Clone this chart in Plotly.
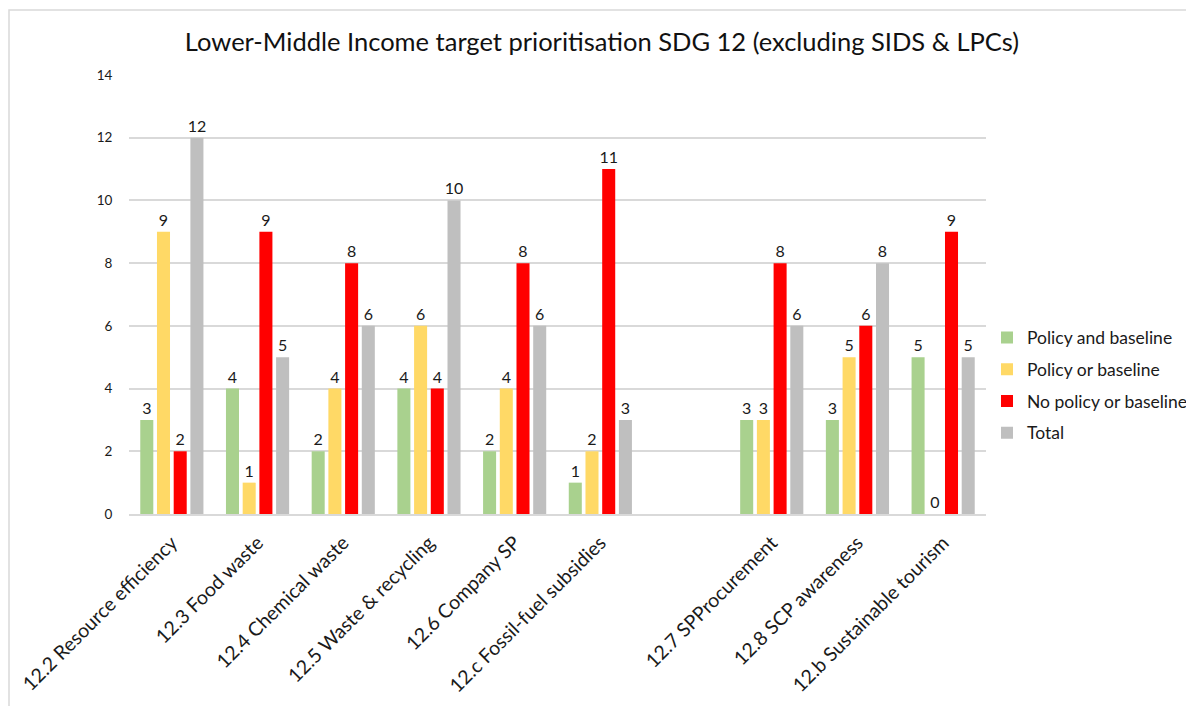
import plotly.graph_objects as go

# Targets (a blank slot separates 12.c from 12.7)
categories = [
    "12.2 Resource efficiency",
    "12.3 Food waste",
    "12.4 Chemical waste",
    "12.5 Waste & recycling",
    "12.6 Company SP",
    "12.c Fossil-fuel subsidies",
    " ",
    "12.7 SPProcurement",
    "12.8 SCP awareness",
    "12.b Sustainable tourism",
]

policy_and_baseline = [3, 4, 2, 4, 2, 1, None, 3, 3, 5]
policy_or_baseline = [9, 1, 4, 6, 4, 2, None, 3, 5, 0]
no_policy_or_baseline = [2, 9, 8, 4, 8, 11, None, 8, 6, 9]
total = [12, 5, 6, 10, 6, 3, None, 6, 8, 5]

series = [
    ("Policy and baseline", policy_and_baseline, "#A9D18E"),
    ("Policy or baseline", policy_or_baseline, "#FFD966"),
    ("No policy or baseline", no_policy_or_baseline, "#FF0000"),
    ("Total", total, "#BFBFBF"),
]

FONT = "Lato, 'Open Sans', sans-serif"

fig = go.Figure()
for name, values, color in series:
    fig.add_trace(go.Bar(
        name=name,
        legendgroup=name,
        x=categories,
        y=values,
        marker=dict(color=color, line=dict(width=0)),
        text=[("" if v is None else str(v)) for v in values],
        textposition="outside",
        constraintext="none",
        cliponaxis=False,
        textfont=dict(family=FONT, size=16, color="#1a1a1a"),
    ))

L, R, T, B = 129, 200, 75, 192
W, H = 1186, 706
pw, ph = W - L - R, H - T - B

fig.update_layout(
    width=W,
    height=H,
    margin=dict(l=L, r=R, t=T, b=B, pad=0, autoexpand=False),
    paper_bgcolor="white",
    plot_bgcolor="white",
    barmode="group",
    bargap=0.22,
    bargroupgap=0.22,
    font=dict(family=FONT, color="#1a1a1a"),
    title=dict(
        text="Lower-Middle Income target prioritisation SDG 12 (excluding SIDS & LPCs)",
        font=dict(family=FONT, size=25.5, color="#111111"),
        x=602 / W,
        xanchor="center",
        y=1 - 42 / H,
        yanchor="middle",
    ),
    legend=dict(
        xref="container",
        yref="container",
        x=987 / W,
        xanchor="left",
        y=1 - 385 / H,
        yanchor="middle",
        font=dict(family=FONT, size=17.5, color="#1a1a1a"),
        bgcolor="rgba(0,0,0,0)",
        traceorder="grouped",
        tracegroupgap=6,
        itemwidth=30,
    ),
    showlegend=True,
    shapes=[
        dict(
            type="rect",
            xref="paper", yref="paper",
            x0=(9 - L) / pw, x1=(W + 20 - L) / pw,
            y0=-(H + 20 - (T + ph)) / ph, y1=1 + (T - 10) / ph,
            line=dict(color="#D9D9D9", width=1.5),
            fillcolor="rgba(0,0,0,0)",
            layer="below",
        )
    ],
)

fig.update_yaxes(
    range=[0, 14],
    dtick=2,
    showgrid=True,
    gridcolor="#D9D9D9",
    gridwidth=1.5,
    zeroline=False,
    showline=False,
    ticks="outside",
    ticklen=13,
    tickcolor="rgba(0,0,0,0)",
    tickfont=dict(family=FONT, size=13.5, color="#1a1a1a"),
)

fig.update_xaxes(
    type="category",
    showgrid=False,
    showline=True,
    linecolor="#D9D9D9",
    linewidth=1.5,
    tickangle=-45,
    ticks="",
    ticklabelstandoff=8,
    tickfont=dict(family=FONT, size=19.5, color="#1a1a1a"),
)

fig.write_html("out.html")
